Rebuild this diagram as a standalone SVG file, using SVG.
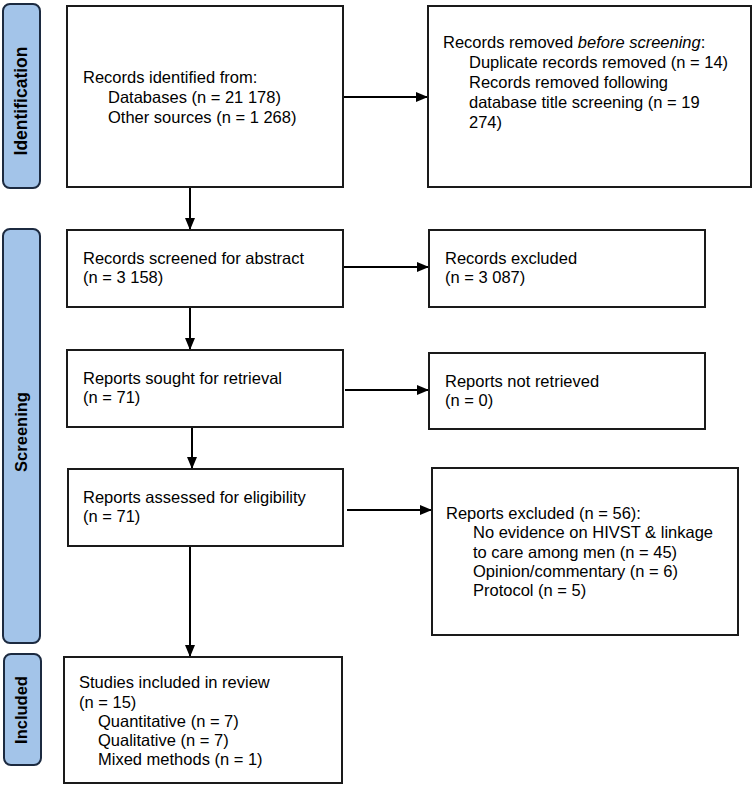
<svg xmlns="http://www.w3.org/2000/svg" width="752" height="786" viewBox="0 0 752 786">
<style>
.box{fill:#fff;stroke:#1a1a1a;stroke-width:2}
.band{fill:#a3c4e9;stroke:#1c2a40;stroke-width:2}
.t{font-family:"Liberation Sans",Arial,sans-serif;font-size:16.5px;fill:#000}
.b{font-family:"Liberation Sans",Arial,sans-serif;font-size:16.5px;font-weight:bold;fill:#000;text-anchor:middle}
.c{stroke:#000;stroke-width:2;fill:none;marker-end:url(#ah)}
</style>
<defs>
<marker id="ah" markerWidth="12" markerHeight="10" refX="11" refY="5" orient="auto" markerUnits="userSpaceOnUse">
<path d="M0,0 L12,5 L0,10 Z" fill="#000"/>
</marker>
</defs>
<rect width="752" height="786" fill="#fff"/>
<g id="band-identification">
<rect class="band" x="3" y="4" width="37" height="184" rx="7"/>
<text class="b" style="font-size:17.5px" transform="translate(27,101) rotate(-90)">Identification</text>
</g>
<g id="band-screening">
<rect class="band" x="3" y="229" width="37" height="414" rx="7"/>
<text class="b" transform="translate(27,432) rotate(-90)">Screening</text>
</g>
<g id="band-included">
<rect class="band" x="4" y="654" width="37" height="111" rx="7"/>
<text class="b" transform="translate(27,710) rotate(-90)">Included</text>
</g>
<g id="connectors">
<line class="c" x1="343" y1="97" x2="427" y2="97"/>
<line class="c" x1="190" y1="187" x2="190" y2="229"/>
<line class="c" x1="343" y1="267" x2="428" y2="267"/>
<line class="c" x1="190" y1="307" x2="190" y2="349"/>
<line class="c" x1="345" y1="390" x2="428" y2="390"/>
<line class="c" x1="192" y1="427" x2="192" y2="468"/>
<line class="c" x1="347" y1="510" x2="431" y2="510"/>
<line class="c" x1="190" y1="546" x2="190" y2="656"/>
</g>
<g id="n1">
<rect class="box" x="67" y="6" width="276" height="181"/>
<text class="t" x="83" y="83">Records identified from:</text>
<text class="t" x="108" y="103">Databases (n = 21 178)</text>
<text class="t" x="108" y="123">Other sources (n = 1 268)</text>
</g>
<g id="n2">
<rect class="box" x="428" y="6" width="323" height="181"/>
<text class="t" x="443" y="48">Records removed <tspan font-style="italic">before screening</tspan>:</text>
<text class="t" x="469" y="68">Duplicate records removed (n = 14)</text>
<text class="t" x="469" y="88">Records removed following</text>
<text class="t" x="469" y="108">database title screening (n = 19</text>
<text class="t" x="469" y="128">274)</text>
</g>
<g id="n3">
<rect class="box" x="67" y="230" width="276" height="77"/>
<text class="t" x="83" y="264">Records screened for abstract</text>
<text class="t" x="83" y="283">(n = 3 158)</text>
</g>
<g id="n4">
<rect class="box" x="429" y="230" width="276" height="77"/>
<text class="t" x="445" y="264">Records excluded</text>
<text class="t" x="445" y="283">(n = 3 087)</text>
</g>
<g id="n5">
<rect class="box" x="67" y="350" width="276" height="77"/>
<text class="t" x="83" y="384">Reports sought for retrieval</text>
<text class="t" x="83" y="403">(n = 71)</text>
</g>
<g id="n6">
<rect class="box" x="429" y="353" width="276" height="76"/>
<text class="t" x="445" y="387">Reports not retrieved</text>
<text class="t" x="445" y="406">(n = 0)</text>
</g>
<g id="n7">
<rect class="box" x="68" y="469" width="275" height="77"/>
<text class="t" x="83" y="503">Reports assessed for eligibility</text>
<text class="t" x="83" y="522">(n = 71)</text>
</g>
<g id="n8">
<rect class="box" x="432" y="468" width="306" height="167"/>
<text class="t" x="446" y="519">Reports excluded (n = 56):</text>
<text class="t" x="473" y="538">No evidence on HIVST &amp; linkage</text>
<text class="t" x="473" y="558">to care among men (n = 45)</text>
<text class="t" x="473" y="577">Opinion/commentary (n = 6)</text>
<text class="t" x="473" y="596">Protocol (n = 5)</text>
</g>
<g id="n9">
<rect class="box" x="64" y="657" width="278" height="126"/>
<text class="t" x="79" y="688">Studies included in review</text>
<text class="t" x="79" y="708">(n = 15)</text>
<text class="t" x="98" y="727">Quantitative (n = 7)</text>
<text class="t" x="98" y="746">Qualitative (n = 7)</text>
<text class="t" x="98" y="765">Mixed methods (n = 1)</text>
</g>
</svg>
